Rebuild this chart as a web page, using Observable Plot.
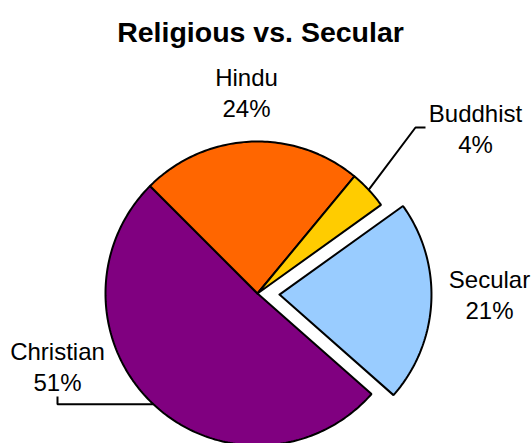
<!DOCTYPE html>
<html><head><meta charset="utf-8">
<script src="https://cdn.jsdelivr.net/npm/d3@7"></script>
<script src="https://cdn.jsdelivr.net/npm/@observablehq/plot@0.6"></script>
<style>body{margin:0;background:#fff} #chart{width:532px;height:443px}</style>
</head><body><div id="chart"></div>
<script>
// ---- data ----
const categories = ["Christian", "Hindu", "Buddhist", "Secular"];
const shares = [51.0, 23.5, 4.1, 21.4];
const percentLabels = ["51%", "24%", "4%", "21%"];
const colors = ["#800080", "#FF6600", "#FFCC00", "#99CCFF"];
const explodedSlices = ["Secular"];
const title = "Religious vs. Secular";

// ---- layout (pixels relative to pie centre, y up) ----
const R = 152;
const startDeg = 131.4;
const explodeDist = 22;
const labelPos = {Hindu: [-11, 202], Buddhist: [218, 166], Secular: [232, 0], Christian: [-200, -72]};
// leader: [bend x (null = keep start x), bend y (null = keep start y)], then final point
const leaderBends = {Buddhist: [[158, 166], [168, 166]], Christian: [[-200, null], [-200, -103]]};

const rad = d => d * Math.PI / 180;
const total = d3.sum(shares);
let acc = startDeg;
const slices = categories.map((c, i) => {
  const a0 = acc, a1 = acc + shares[i] / total * 360;
  acc = a1;
  const mid = (a0 + a1) / 2;
  const off = explodedSlices.includes(c) ? explodeDist : 0;
  return {name: c, a0, a1, mid, ox: off * Math.sin(rad(mid)), oy: off * Math.cos(rad(mid)), pct: percentLabels[i]};
});

const poly = [];
for (const s of slices) {
  poly.push({name: s.name, x: s.ox, y: s.oy});
  const n = Math.max(2, Math.ceil(s.a1 - s.a0));
  for (let k = 0; k <= n; k++) {
    const a = rad(s.a0 + (s.a1 - s.a0) * k / n);
    poly.push({name: s.name, x: s.ox + R * Math.sin(a), y: s.oy + R * Math.cos(a)});
  }
  poly.push({name: s.name, x: s.ox, y: s.oy});
}

const leaders = [];
for (const s of slices) {
  if (!leaderBends[s.name]) continue;
  const sx = s.ox + R * Math.sin(rad(s.mid)), sy = s.oy + R * Math.cos(rad(s.mid));
  leaders.push({name: s.name, x: sx, y: sy});
  for (const [x, y] of leaderBends[s.name]) leaders.push({name: s.name, x: x ?? sx, y: y ?? sy});
}

const labels = slices.map(s => ({x: labelPos[s.name][0], y: labelPos[s.name][1], text: s.name + "\n" + s.pct}));

const chart = Plot.plot({
  width: 532, height: 443, margin: 0,
  x: {domain: [-257, 275], axis: null},
  y: {domain: [-150, 293], axis: null},
  color: {domain: categories, range: colors},
  style: {fontFamily: "'Liberation Sans', Arial, sans-serif", background: "white", overflow: "hidden"},
  marks: [
    Plot.line(poly, {x: "x", y: "y", z: "name", fill: "name", stroke: "black", strokeWidth: 2, strokeLinejoin: "miter", curve: "linear"}),
    Plot.line(leaders, {x: "x", y: "y", z: "name", stroke: "black", strokeWidth: 2, strokeLinejoin: "miter", strokeLinecap: "butt"}),
    Plot.text(labels, {x: "x", y: "y", text: "text", fontSize: 24, lineHeight: 1.28, fill: "black", textAnchor: "middle"}),
    Plot.text([title], {frameAnchor: "top", dx: -6, dy: 21, fontSize: 28.5, fontWeight: "bold", fill: "black"})
  ]
});
document.getElementById("chart").append(chart);
</script>
</body></html>
